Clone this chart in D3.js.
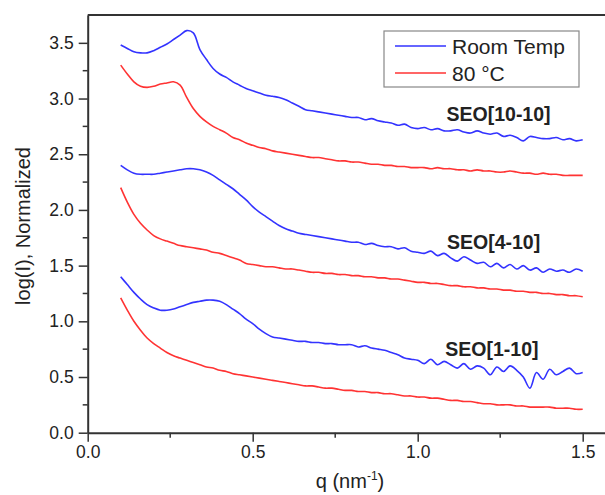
<!DOCTYPE html>
<html><head><meta charset="utf-8">
<script src="https://cdn.jsdelivr.net/npm/d3@7"></script>
<style>body{margin:0;background:#fff}svg{display:block}text{font-family:"Liberation Sans",Arial,sans-serif;fill:#222}</style>
</head><body><svg id="c" width="605" height="495"></svg>
<script>
const q = [0.10,0.12,0.14,0.16,0.18,0.20,0.22,0.24,0.26,0.28,0.30,0.32,0.34,0.36,0.38,0.40,0.42,0.44,0.46,0.48,
0.50,0.52,0.54,0.56,0.58,0.60,0.62,0.64,0.66,0.68,0.70,0.72,0.74,0.76,0.78,0.80,0.82,0.84,0.86,0.88,
0.90,0.92,0.94,0.96,0.98,1.00,1.02,1.04,1.06,1.08,1.10,1.12,1.14,1.16,1.18,1.20,1.22,1.24,1.26,1.28,
1.30,1.32,1.34,1.36,1.38,1.40,1.42,1.44,1.46,1.48,1.50];

const seo10_room = [3.48,3.45,3.42,3.41,3.41,3.43,3.46,3.49,3.53,3.57,3.61,3.59,3.44,3.35,3.27,3.22,3.19,3.15,3.12,3.09,
3.07,3.05,3.03,3.02,3.01,2.99,2.96,2.93,2.90,2.89,2.88,2.87,2.86,2.85,2.84,2.83,2.83,2.81,2.82,2.80,
2.79,2.78,2.76,2.77,2.74,2.73,2.74,2.72,2.73,2.71,2.71,2.72,2.70,2.69,2.71,2.69,2.68,2.69,2.66,2.67,
2.65,2.62,2.66,2.65,2.64,2.64,2.65,2.63,2.64,2.62,2.63];
const seo10_80 = [3.30,3.22,3.15,3.11,3.10,3.11,3.13,3.14,3.15,3.12,3.01,2.91,2.84,2.79,2.75,2.72,2.69,2.65,2.63,2.60,
2.58,2.56,2.55,2.53,2.52,2.51,2.50,2.49,2.48,2.47,2.47,2.46,2.45,2.44,2.44,2.43,2.43,2.42,2.41,2.41,
2.40,2.40,2.39,2.39,2.38,2.38,2.38,2.37,2.38,2.37,2.37,2.36,2.36,2.35,2.36,2.35,2.35,2.34,2.34,2.35,
2.34,2.33,2.33,2.32,2.33,2.32,2.32,2.31,2.31,2.31,2.31];
const seo4_room = [2.40,2.36,2.33,2.32,2.32,2.32,2.33,2.34,2.35,2.36,2.37,2.37,2.36,2.34,2.31,2.27,2.23,2.19,2.14,2.09,
2.03,1.98,1.94,1.90,1.86,1.83,1.81,1.79,1.78,1.77,1.76,1.75,1.74,1.73,1.72,1.71,1.71,1.69,1.70,1.68,
1.67,1.67,1.65,1.66,1.63,1.62,1.61,1.63,1.59,1.61,1.57,1.54,1.58,1.55,1.52,1.53,1.49,1.52,1.48,1.51,
1.47,1.50,1.46,1.48,1.44,1.47,1.45,1.46,1.44,1.47,1.45];
const seo4_80 = [2.20,2.07,1.96,1.88,1.82,1.77,1.74,1.72,1.70,1.68,1.67,1.66,1.65,1.64,1.62,1.61,1.59,1.57,1.55,1.52,
1.51,1.50,1.49,1.49,1.48,1.47,1.47,1.46,1.45,1.44,1.44,1.43,1.43,1.42,1.42,1.41,1.41,1.40,1.40,1.39,
1.39,1.38,1.38,1.37,1.36,1.35,1.35,1.34,1.34,1.33,1.32,1.32,1.31,1.31,1.30,1.30,1.29,1.29,1.28,1.28,
1.27,1.27,1.26,1.26,1.25,1.25,1.24,1.24,1.23,1.23,1.22];
const seo1_room = [1.40,1.33,1.26,1.20,1.15,1.12,1.10,1.10,1.11,1.13,1.15,1.17,1.18,1.19,1.19,1.18,1.15,1.11,1.07,1.02,
0.98,0.93,0.89,0.86,0.85,0.84,0.83,0.82,0.82,0.81,0.81,0.80,0.80,0.79,0.79,0.79,0.77,0.78,0.76,0.75,
0.74,0.72,0.70,0.67,0.66,0.65,0.62,0.66,0.61,0.64,0.61,0.58,0.62,0.57,0.60,0.58,0.52,0.59,0.55,0.60,
0.56,0.50,0.40,0.54,0.48,0.57,0.52,0.55,0.58,0.53,0.54];
const seo1_80 = [1.21,1.10,1.00,0.92,0.85,0.80,0.76,0.72,0.69,0.67,0.65,0.63,0.61,0.59,0.58,0.56,0.55,0.53,0.52,0.51,
0.50,0.49,0.48,0.47,0.46,0.45,0.44,0.43,0.42,0.42,0.41,0.40,0.40,0.39,0.38,0.38,0.37,0.37,0.36,0.36,
0.35,0.35,0.34,0.33,0.33,0.32,0.32,0.31,0.31,0.30,0.29,0.29,0.28,0.28,0.27,0.26,0.26,0.25,0.25,0.25,
0.24,0.24,0.23,0.23,0.23,0.23,0.22,0.22,0.22,0.21,0.21];

const series = [
  {name:"Room Temp", values:seo10_room, color:"#3333ff"},
  {name:"80 °C", values:seo10_80, color:"#ff3333"},
  {name:"Room Temp", values:seo4_room, color:"#3333ff"},
  {name:"80 °C", values:seo4_80, color:"#ff3333"},
  {name:"Room Temp", values:seo1_room, color:"#3333ff"},
  {name:"80 °C", values:seo1_80, color:"#ff3333"}
];
const samples = ["SEO[10-10]","SEO[4-10]","SEO[1-10]"];
const sampleLabelPos = [[1.245,2.80],[1.23,1.65],[1.225,0.69]];
const xTicks = [0,0.5,1.0,1.5];
const yTicks = [0,0.5,1.0,1.5,2.0,2.5,3.0,3.5];
const legendItems = [{label:"Room Temp", color:"#3333ff"},{label:"80 °C", color:"#ff3333"}];

const svg = d3.select("#c");
const x = d3.scaleLinear().domain([0,1.6]).range([87.7,87.7+528]);
const y = d3.scaleLinear().domain([0,3.75]).range([432.7,15]);
const axisColor = "#333";

// minor ticks
const xMinor = [0.25,0.75,1.25];
const yMinor = [0.25,0.75,1.25,1.75,2.25,2.75,3.25];
svg.append("g").selectAll("line").data(xMinor).join("line")
  .attr("x1",d=>x(d)).attr("x2",d=>x(d)).attr("y1",y(0)).attr("y2",y(0)+5)
  .attr("stroke",axisColor).attr("stroke-width",1.5);
svg.append("g").selectAll("line").data(yMinor).join("line")
  .attr("y1",d=>y(d)).attr("y2",d=>y(d)).attr("x1",x(0)).attr("x2",x(0)-5)
  .attr("stroke",axisColor).attr("stroke-width",1.5);

const xAxis = svg.append("g").attr("transform",`translate(0,${y(0)})`)
  .call(d3.axisBottom(x).tickValues(xTicks).tickFormat(d3.format(".1f")).tickSize(9).tickSizeOuter(0).tickPadding(4));
const yAxis = svg.append("g").attr("transform",`translate(${x(0)},0)`)
  .call(d3.axisLeft(y).tickValues(yTicks).tickFormat(d3.format(".1f")).tickSize(9).tickSizeOuter(0).tickPadding(5));
[xAxis,yAxis].forEach(g=>{
  g.select(".domain").attr("stroke",axisColor).attr("stroke-width",2);
  g.selectAll(".tick line").attr("stroke",axisColor).attr("stroke-width",1.5);
  g.selectAll(".tick text").attr("font-size",17.5).attr("font-family","Liberation Sans, Arial, sans-serif").attr("fill","#222");
});
// top frame line
svg.append("line").attr("x1",x(0)).attr("x2",605).attr("y1",y(3.75)).attr("y2",y(3.75))
  .attr("stroke",axisColor).attr("stroke-width",2);

const line = d3.line().x((d,i)=>x(q[i])).y(d=>y(d)).curve(d3.curveCatmullRom.alpha(0.5));
svg.append("g").selectAll("path").data(series).join("path")
  .attr("d",d=>line(d.values)).attr("fill","none").attr("stroke",d=>d.color).attr("stroke-width",1.6)
  .attr("stroke-linejoin","round");

// sample labels
svg.append("g").selectAll("text").data(samples).join("text")
  .attr("x",(d,i)=>x(sampleLabelPos[i][0])).attr("y",(d,i)=>y(sampleLabelPos[i][1]))
  .attr("text-anchor","middle").attr("font-weight","bold").attr("font-size",19.5).text(d=>d);

// legend
const lg = svg.append("g");
lg.append("rect").attr("x",384).attr("y",31).attr("width",195).attr("height",56)
  .attr("fill","#fff").attr("stroke","#888").attr("stroke-width",1.2);
legendItems.forEach((it,i)=>{
  const yy = 46 + i*27;
  lg.append("line").attr("x1",395).attr("x2",446).attr("y1",yy).attr("y2",yy).attr("stroke",it.color).attr("stroke-width",1.6);
  lg.append("text").attr("x",452).attr("y",yy+7.5).attr("font-size",21).text(it.label);
});

// axis labels
const xl = svg.append("text").attr("x",350).attr("y",488).attr("text-anchor","middle").attr("font-size",20);
xl.append("tspan").text("q (nm");
xl.append("tspan").attr("dy",-8).attr("font-size",12).text("-1");
xl.append("tspan").attr("dy",8).text(")");
svg.append("text").attr("transform","translate(30,226) rotate(-90)").attr("text-anchor","middle")
  .attr("font-size",20).text("log(I), Normalized");
</script></body></html>
